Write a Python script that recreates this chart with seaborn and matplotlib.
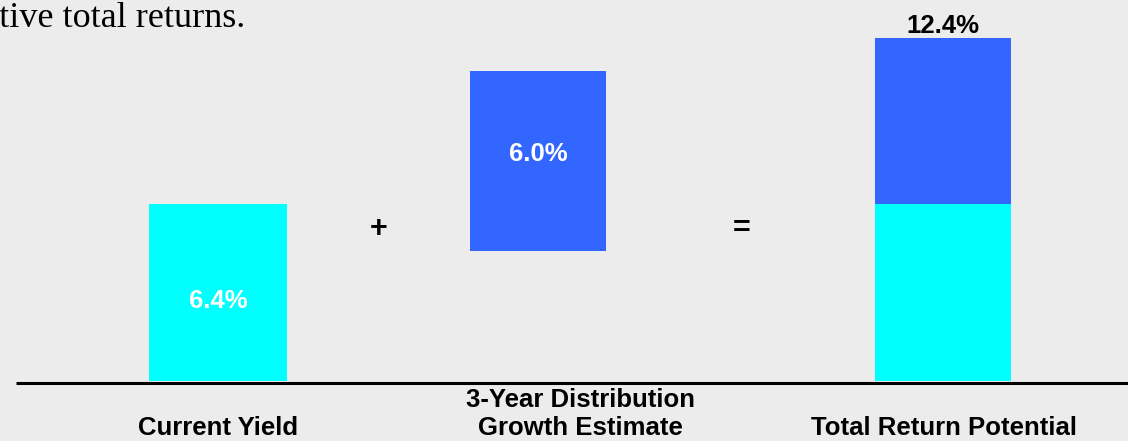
import matplotlib
matplotlib.use("Agg")
import matplotlib.pyplot as plt
import seaborn as sns

# values (percent)
categories = ["Current Yield", "3-Year Distribution\nGrowth Estimate", "Total Return Potential"]
current_yield = 6.4
growth_estimate = 6.0
total_return = 12.4
# the floating middle bar is drawn a little taller than its label in the source
growth_bar_bottom = 4.7
growth_bar_top = 11.2

value_labels = ["6.4%", "6.0%", "12.4%"]
operators = ["+", "="]
intro_text = "attractive total returns."

cyan = "#00ffff"
blue = "#3366ff"
bg = "#ececec"

sns.set_theme(style="white")
plt.rcParams["font.family"] = ["Liberation Sans", "DejaVu Sans"]
plt.rcParams["text.color"] = "black"

W, H = 1128, 441
px_per_unit = 27.66
base_px = 381  # pixel row of value 0

fig = plt.figure(figsize=(W / 100, H / 100), dpi=100)
fig.patch.set_facecolor(bg)
ax = fig.add_axes([0, (H - base_px) / H, 1, base_px / H])
ax.set_facecolor(bg)
ax.set_xlim(0, W)
ax.set_ylim(0, base_px / px_per_unit)
ax.axis("off")

# bar layout in pixel columns
centers = [218, 538, 943]
widths = [138, 136, 136]
label_centers = [218, 580, 944]

# current yield
ax.bar(centers[0], current_yield, width=widths[0], color=cyan, linewidth=0)
# distribution growth (floating)
ax.bar(centers[1], growth_bar_top - growth_bar_bottom, bottom=growth_bar_bottom,
       width=widths[1], color=blue, linewidth=0)
# total return = yield + growth stacked
ax.bar(centers[2], current_yield, width=widths[2], color=cyan, linewidth=0)
ax.bar(centers[2], total_return - current_yield, bottom=current_yield,
       width=widths[2], color=blue, linewidth=0)

fs = 18.5
ax.text(centers[0], current_yield / 2 - 0.3, value_labels[0], color="white",
        fontsize=fs, fontweight="bold", ha="center", va="center")
ax.text(centers[1], (growth_bar_bottom + growth_bar_top) / 2 + 0.25, value_labels[1],
        color="white", fontsize=fs, fontweight="bold", ha="center", va="center")
ax.text(centers[2], total_return + 0.45, value_labels[2], color="black",
        fontsize=fs, fontweight="bold", ha="center", va="center")

# operators between the bars
op_y = (base_px - 229) / px_per_unit
ax.text(379, op_y, operators[0], fontsize=22, fontweight="bold", ha="center", va="center")
ax.text(742, op_y, operators[1], fontsize=22, fontweight="bold", ha="center", va="center")

# baseline rule
ax.hlines(-1.5 / px_per_unit, 16, W, color="black", linewidth=2.2, clip_on=False)

# category labels below the rule
last_baseline_px = 435
line_step_px = 28
for cx, label in zip(label_centers, categories):
    lines = label.split("\n")
    for i, line in enumerate(reversed(lines)):
        y = (base_px - (last_baseline_px - i * line_step_px)) / px_per_unit
        ax.text(cx, y, line, fontsize=fs, fontweight="bold", ha="center",
                va="baseline", clip_on=False)

# cut-off sentence from the slide above
fig.text(245 / W, 1 - 27 / H, intro_text, family=["Liberation Serif", "DejaVu Serif"],
         fontsize=26, ha="right", va="baseline", color="black")

fig.savefig("out.png", dpi=100, facecolor=bg)
